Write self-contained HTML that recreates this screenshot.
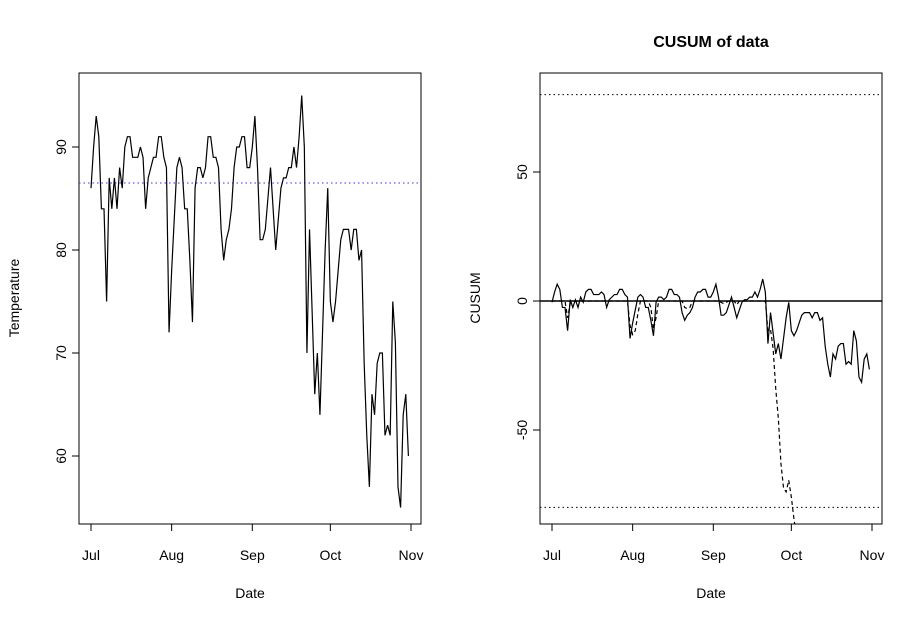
<!DOCTYPE html>
<html><head><meta charset="utf-8"><style>
html,body{margin:0;padding:0;background:#fff;width:923px;height:623px;overflow:hidden;}
svg{display:block;font-family:"Liberation Sans",Arial,sans-serif;}
</style></head><body>
<svg id="chart" width="923" height="623" viewBox="0 0 923 623" xmlns="http://www.w3.org/2000/svg">
<defs><clipPath id="clipR"><rect x="540" y="73" width="342" height="451"/></clipPath>
<clipPath id="clipL"><rect x="79" y="73" width="342" height="451"/></clipPath></defs>
<rect x="79" y="73" width="342" height="451" fill="none" stroke="#000"/>
<rect x="540" y="73" width="342" height="451" fill="none" stroke="#000"/>
<text x="711" y="47" text-anchor="middle" font-weight="bold" font-size="16">CUSUM of data</text>
<text x="250" y="598" text-anchor="middle" font-size="14">Date</text>
<text x="711" y="598" text-anchor="middle" font-size="14">Date</text>
<text transform="translate(19,298) rotate(-90)" text-anchor="middle" font-size="14">Temperature</text>
<text transform="translate(480,298) rotate(-90)" text-anchor="middle" font-size="14">CUSUM</text>
<g id="g"></g>
</svg>
<script>
const temps=[86,90,93,91,84,84,75,87,84,87,84,88,86,90,91,91,89,89,89,90,89,84,87,88,89,89,91,91,89,88,72,78,83,88,89,88,84,84,79,73,86,88,88,87,88,91,91,89,89,88,82,79,81,82,84,88,90,90,91,91,88,88,90,93,88,81,81,82,85,88,84,80,83,86,87,87,88,88,90,88,91,95,90,70,82,74,66,70,64,72,80,86,75,73,75,78,81,82,82,82,80,82,82,79,80,69,62,57,66,64,69,70,70,62,63,62,75,71,57,55,64,66,60];
const target=86.5;
const slack=5;
const limits=[80,-80];
const monthLabels=["Jul","Aug","Sep","Oct","Nov"];
const monthDays=[0,31,62,92,123];
const leftTicks=[60,70,80,90];
const rightTicks=[-50,0,50];

const NS="http://www.w3.org/2000/svg";
const g=document.getElementById('g');
function mk(t,a,p){const e=document.createElementNS(NS,t);for(const k in a)e.setAttribute(k,a[k]);(p||g).appendChild(e);return e;}
const xL=d=>91+d*320/123, xR=d=>552+d*320/123;
const yL=v=>147-(v-90)*10.3, yR=v=>301-v*2.58;
const clampY=y=>Math.max(70,Math.min(y,527));

[[xL,'left'],[xR,'right']].forEach(([xf,side])=>{
  const a=mk('line',{x1:xf(0),x2:xf(123),y1:524,y2:524,stroke:'#000'});
  
  
  monthDays.forEach((d,i)=>{
    const t=mk('line',{x1:xf(d),x2:xf(d),y1:524,y2:531,stroke:'#000'});
    
    
    const l=mk('text',{x:xf(d),y:560,'text-anchor':'middle','font-size':14});
    l.textContent=monthLabels[i];
    
    
  });
});
leftTicks.forEach(v=>{
  const t=mk('line',{x1:72,x2:79,y1:yL(v),y2:yL(v),stroke:'#000'});
  
  
  const l=mk('text',{transform:`translate(66,${yL(v)}) rotate(-90)`,'text-anchor':'middle','font-size':14});
  l.textContent=v;
  
  
});
const ay=mk('line',{x1:79,x2:79,y1:yL(60),y2:yL(90),stroke:'#000'});


rightTicks.forEach(v=>{
  const t=mk('line',{x1:533,x2:540,y1:yR(v),y2:yR(v),stroke:'#000'});
  
  
  const l=mk('text',{transform:`translate(527,${yR(v)}) rotate(-90)`,'text-anchor':'middle','font-size':14});
  l.textContent=v;
  
  
});

const tl=mk('line',{x1:79,x2:421,y1:yL(target),y2:yL(target),stroke:'#3030ff','stroke-dasharray':'1.5 3'});


const tp=mk('polyline',{points:temps.map((v,i)=>xL(i)+','+yL(v)).join(' '),fill:'none',stroke:'#000','stroke-width':1.2,'clip-path':'url(#clipL)'});



limits.forEach(v=>{
  const l=mk('line',{x1:540,x2:882,y1:yR(v),y2:yR(v),stroke:'#000','stroke-dasharray':'1.5 3'});
  
  
});
const z=mk('line',{x1:540,x2:882,y1:yR(0),y2:yR(0),stroke:'#000','stroke-width':1.5});


const dev=temps.map(v=>v-target);
const sp=mk('polyline',{points:dev.map((v,i)=>xR(i)+','+clampY(yR(v))).join(' '),fill:'none',stroke:'#000','stroke-width':1.2,'clip-path':'url(#clipR)'});


let c=0;const low=temps.map(v=>{c=Math.min(0,c+(v-target)+slack);return c;});
let pts=[];
for(let i=0;i<low.length;i++){
  const y=yR(low[i]);
  if(y>527){
    if(i>0){const y0=yR(low[i-1]);const f=(527-y0)/(y-y0);pts.push((xR(i-1)+f*(xR(i)-xR(i-1)))+','+527);}
    break;
  }
  pts.push(xR(i)+','+y);
}
const lp=mk('polyline',{points:pts.join(' '),fill:'none',stroke:'#000','stroke-width':1.2,'stroke-dasharray':'4 3','clip-path':'url(#clipR)'});


</script>
</body></html>
